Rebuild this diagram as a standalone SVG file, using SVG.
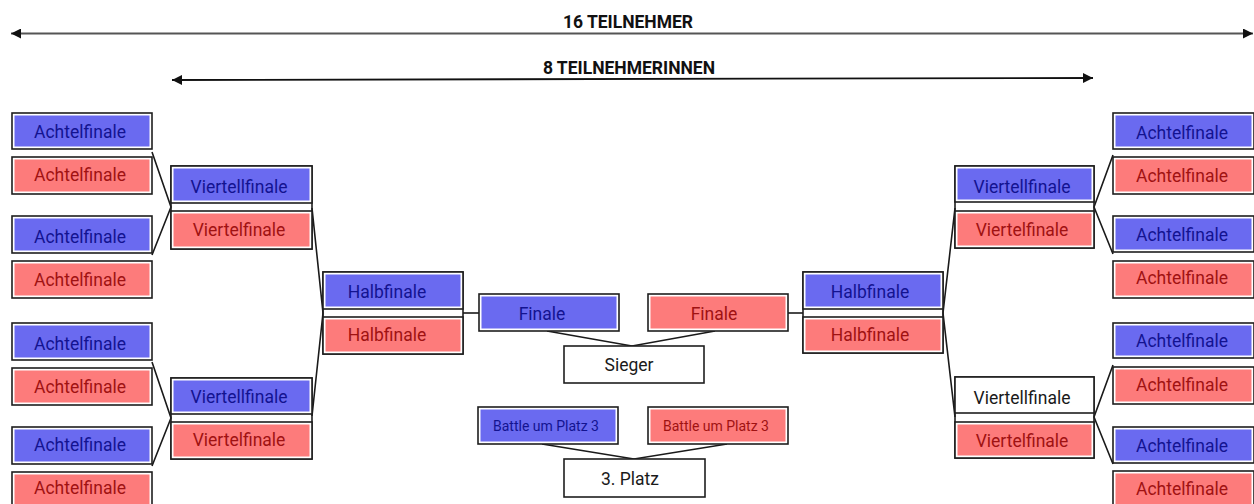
<svg xmlns="http://www.w3.org/2000/svg" width="1254" height="504" viewBox="0 0 1254 504">
<defs>
<style>
.o{fill:#fff;stroke:#1e1e1e;stroke-width:1.6}
.b{fill:#6a6af0}
.r{fill:#fd7b7b}
.t{font-family:Roboto,"Liberation Sans",sans-serif;font-size:17.5px;text-anchor:middle}
.tb{fill:#131390}
.tr{fill:#a01212}
.tk{fill:#1a1a1a}
.s{font-size:14px}
.h{font-family:Roboto,"Liberation Sans",sans-serif;font-weight:bold;font-size:17.5px;text-anchor:middle;fill:#111}
.c{stroke:#1a1a1a;stroke-width:1.6;fill:none}
.f{fill:none;stroke:#1e1e1e;stroke-width:1.6}
</style>
<marker id="ah" viewBox="0 0 10 10" refX="10" refY="5" markerWidth="15" markerHeight="10" markerUnits="userSpaceOnUse" orient="auto-start-reverse">
<path d="M0,0L10,5L0,10z" fill="#111"/>
</marker>
</defs>
<rect width="1254" height="504" fill="#fff"/>

<g id="headers">
<text class="h" x="628" y="27.5">16 TEILNEHMER</text>
<line x1="11" y1="33.5" x2="1253" y2="33.5" stroke="#555" stroke-width="2" marker-start="url(#ah)" marker-end="url(#ah)"/>
<text class="h" x="629" y="74">8 TEILNEHMERINNEN</text>
<line x1="172" y1="80" x2="1093" y2="78" stroke="#111" stroke-width="1.8" marker-start="url(#ah)" marker-end="url(#ah)"/>
</g>

<g id="connectors">
<path class="c" d="M152,152L171,207L152,255"/>
<path class="c" d="M152,362L171,418L152,466"/>
<path class="c" d="M312,208L323,313L312,416"/>
<path class="c" d="M463,313H479"/>
<path class="c" d="M788,313H803"/>
<path class="c" d="M547,331L632,346L715,331"/>
<path class="c" d="M542,444L634,459L727,444"/>
<path class="c" d="M955,208L943,313L955,417"/>
<path class="c" d="M1113,155L1094,207L1113,254"/>
<path class="c" d="M1113,365L1094,417L1113,464"/>
</g>

<g id="frames">
<rect class="f" x="171" y="166" width="141" height="83"/>
<rect class="f" x="171" y="378" width="141" height="81"/>
<rect class="f" x="323" y="272" width="140" height="82"/>
<rect class="f" x="803" y="272" width="140" height="81"/>
<rect class="f" x="955" y="166" width="139" height="82"/>
<rect class="f" x="955" y="377" width="139" height="81"/>
</g>

<!-- Left Achtelfinale -->
<g id="la1"><rect class="o" x="12" y="113" width="140" height="36"/><rect class="b" x="14.5" y="115.5" width="135" height="31"/><text class="t tb" x="80" y="137.5">Achtelfinale</text></g>
<g id="la2"><rect class="o" x="12" y="157" width="140" height="37"/><rect class="r" x="14.5" y="159.5" width="135" height="32"/><text class="t tr" x="80" y="181">Achtelfinale</text></g>
<g id="la3"><rect class="o" x="12" y="216" width="140" height="37"/><rect class="b" x="14.5" y="218.5" width="135" height="32"/><text class="t tb" x="80" y="243">Achtelfinale</text></g>
<g id="la4"><rect class="o" x="12" y="261" width="140" height="37"/><rect class="r" x="14.5" y="263.5" width="135" height="32"/><text class="t tr" x="80" y="286">Achtelfinale</text></g>
<g id="la5"><rect class="o" x="12" y="323" width="140" height="37"/><rect class="b" x="14.5" y="325.5" width="135" height="32"/><text class="t tb" x="80" y="350">Achtelfinale</text></g>
<g id="la6"><rect class="o" x="12" y="368" width="140" height="37"/><rect class="r" x="14.5" y="370.5" width="135" height="32"/><text class="t tr" x="80" y="393">Achtelfinale</text></g>
<g id="la7"><rect class="o" x="12" y="427" width="140" height="37"/><rect class="b" x="14.5" y="429.5" width="135" height="32"/><text class="t tb" x="80" y="450.5">Achtelfinale</text></g>
<g id="la8"><rect class="o" x="12" y="472" width="140" height="37"/><rect class="r" x="14.5" y="474.5" width="135" height="32"/><text class="t tr" x="80" y="494">Achtelfinale</text></g>

<!-- Left Viertelfinale -->
<g id="lv1"><rect class="o" x="171" y="166" width="141" height="37"/><rect class="b" x="173.5" y="168.5" width="136" height="32"/><text class="t tb" x="239" y="192.5">Viertellfinale</text></g>
<g id="lv2"><rect class="o" x="171" y="211" width="141" height="38"/><rect class="r" x="173.5" y="213.5" width="136" height="33"/><text class="t tr" x="239" y="235.5">Viertelfinale</text></g>
<g id="lv3"><rect class="o" x="171" y="378" width="141" height="36"/><rect class="b" x="173.5" y="380.5" width="136" height="31"/><text class="t tb" x="239" y="402.5">Viertellfinale</text></g>
<g id="lv4"><rect class="o" x="171" y="422" width="141" height="37"/><rect class="r" x="173.5" y="424.5" width="136" height="32"/><text class="t tr" x="239" y="445.5">Viertelfinale</text></g>

<!-- Left Halbfinale -->
<g id="lh1"><rect class="o" x="323" y="272" width="140" height="37"/><rect class="b" x="325.5" y="274.5" width="135" height="32"/><text class="t tb" x="387" y="297.5">Halbfinale</text></g>
<g id="lh2"><rect class="o" x="323" y="317" width="140" height="37"/><rect class="r" x="325.5" y="319.5" width="135" height="32"/><text class="t tr" x="387" y="340.5">Halbfinale</text></g>

<!-- Finale -->
<g id="fb"><rect class="o" x="479" y="294" width="140" height="37"/><rect class="b" x="481.5" y="296.5" width="135" height="32"/><text class="t tb" x="542" y="319.5">Finale</text></g>
<g id="fr"><rect class="o" x="648" y="294" width="140" height="37"/><rect class="r" x="650.5" y="296.5" width="135" height="32"/><text class="t tr" x="714" y="319.5">Finale</text></g>
<g id="sieger"><rect class="o" x="564" y="346" width="140" height="37"/><text class="t tk" x="629" y="370.5">Sieger</text></g>

<!-- Battle -->
<g id="bb"><rect class="o" x="478" y="407" width="140" height="37"/><rect class="b" x="480.5" y="409.5" width="135" height="32"/><text class="t tb s" x="546" y="430.5">Battle um Platz 3</text></g>
<g id="br"><rect class="o" x="648" y="407" width="140" height="37"/><rect class="r" x="650.5" y="409.5" width="135" height="32"/><text class="t tr s" x="716" y="430.5">Battle um Platz 3</text></g>
<g id="platz3"><rect class="o" x="564" y="459" width="141" height="38"/><text class="t tk" x="630" y="485">3. Platz</text></g>

<!-- Right Halbfinale -->
<g id="rh1"><rect class="o" x="803" y="272" width="140" height="37"/><rect class="b" x="805.5" y="274.5" width="135" height="32"/><text class="t tb" x="870" y="297.5">Halbfinale</text></g>
<g id="rh2"><rect class="o" x="803" y="317" width="140" height="36"/><rect class="r" x="805.5" y="319.5" width="135" height="31"/><text class="t tr" x="870" y="340.5">Halbfinale</text></g>

<!-- Right Viertelfinale -->
<g id="rv1"><rect class="o" x="955" y="166" width="139" height="36"/><rect class="b" x="957.5" y="168.5" width="134" height="31"/><text class="t tb" x="1022" y="192.5">Viertellfinale</text></g>
<g id="rv2"><rect class="o" x="955" y="211" width="139" height="37"/><rect class="r" x="957.5" y="213.5" width="134" height="32"/><text class="t tr" x="1022" y="235.5">Viertelfinale</text></g>
<g id="rv3"><rect class="o" x="955" y="377" width="139" height="36"/><text class="t tk" x="1022" y="403.5">Viertellfinale</text></g>
<g id="rv4"><rect class="o" x="955" y="422" width="139" height="36"/><rect class="r" x="957.5" y="424.5" width="134" height="31"/><text class="t tr" x="1022" y="446.5">Viertelfinale</text></g>

<!-- Right Achtelfinale -->
<g id="ra1"><rect class="o" x="1113" y="113" width="141" height="36"/><rect class="b" x="1115.5" y="115.5" width="136" height="31"/><text class="t tb" x="1182" y="138.5">Achtelfinale</text></g>
<g id="ra2"><rect class="o" x="1113" y="157" width="141" height="37"/><rect class="r" x="1115.5" y="159.5" width="136" height="32"/><text class="t tr" x="1182" y="181.5">Achtelfinale</text></g>
<g id="ra3"><rect class="o" x="1113" y="216" width="141" height="36"/><rect class="b" x="1115.5" y="218.5" width="136" height="31"/><text class="t tb" x="1182" y="240.5">Achtelfinale</text></g>
<g id="ra4"><rect class="o" x="1113" y="261" width="141" height="37"/><rect class="r" x="1115.5" y="263.5" width="136" height="32"/><text class="t tr" x="1182" y="283.5">Achtelfinale</text></g>
<g id="ra5"><rect class="o" x="1113" y="323" width="141" height="35"/><rect class="b" x="1115.5" y="325.5" width="136" height="30"/><text class="t tb" x="1182" y="346.5">Achtelfinale</text></g>
<g id="ra6"><rect class="o" x="1113" y="367" width="141" height="37"/><rect class="r" x="1115.5" y="369.5" width="136" height="32"/><text class="t tr" x="1182" y="390.5">Achtelfinale</text></g>
<g id="ra7"><rect class="o" x="1113" y="427" width="141" height="36"/><rect class="b" x="1115.5" y="429.5" width="136" height="31"/><text class="t tb" x="1182" y="451.5">Achtelfinale</text></g>
<g id="ra8"><rect class="o" x="1113" y="471" width="141" height="38"/><rect class="r" x="1115.5" y="473.5" width="136" height="33"/><text class="t tr" x="1182" y="495">Achtelfinale</text></g>
</svg>
